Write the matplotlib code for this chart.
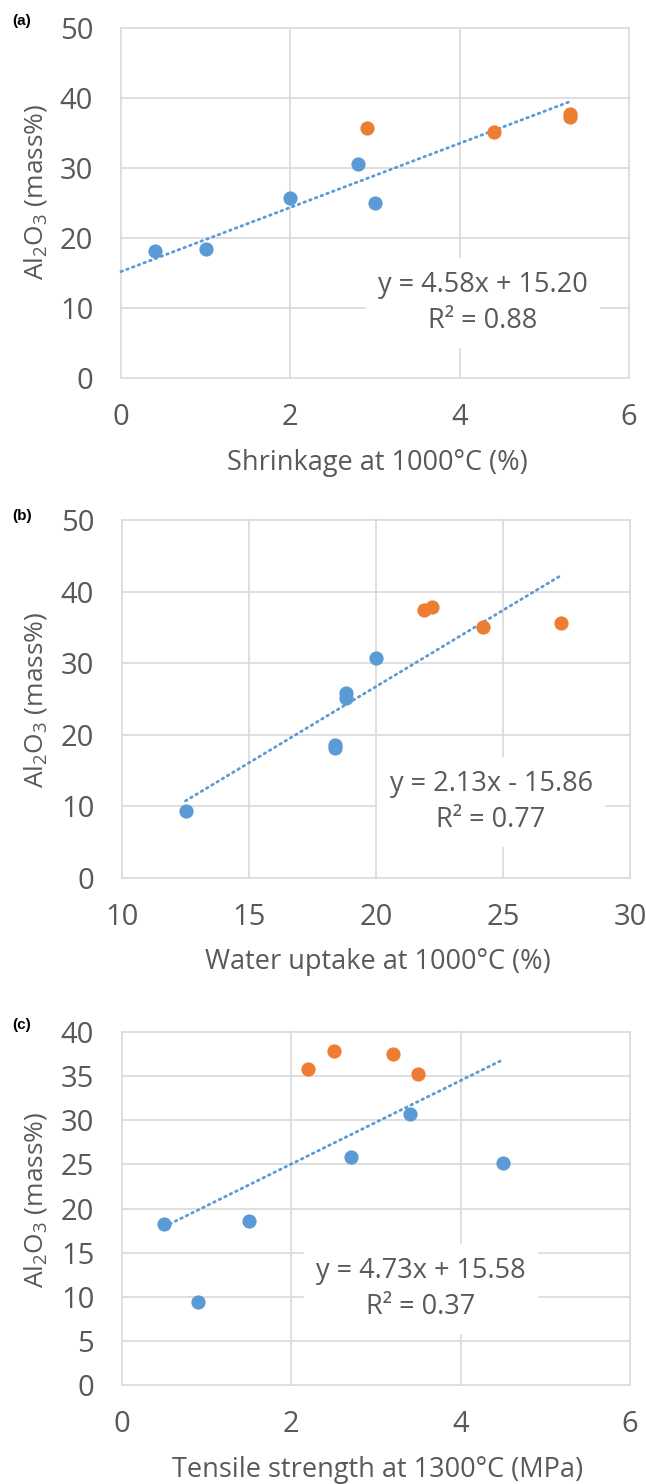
import matplotlib
matplotlib.use("Agg")
import matplotlib.pyplot as plt
import numpy as np

plt.rcParams['font.family'] = ['Open Sans', 'DejaVu Sans']

W, H = 646, 1484

# ---- data ----
# panel (a): shrinkage at 1000 C vs Al2O3
a_blue_x = [0.4, 1.0, 2.0, 2.8, 3.0]
a_blue_y = [18.2, 18.5, 25.7, 30.6, 25.0]
a_orange_x = [2.9, 4.4, 5.3, 5.3]
a_orange_y = [35.7, 35.1, 37.7, 37.3]
a_fit = (4.58, 15.20, 0.88)
a_fit_range = (0.0, 5.3)

# panel (b): water uptake at 1000 C vs Al2O3
b_blue_x = [12.5, 18.4, 18.4, 18.8, 18.8, 20.0]
b_blue_y = [9.4, 18.6, 18.2, 25.8, 25.1, 30.7]
b_orange_x = [21.9, 22.2, 24.2, 27.3]
b_orange_y = [37.4, 37.8, 35.1, 35.6]
b_fit = (2.13, -15.86, 0.77)
b_fit_range = (12.5, 27.3)

# panel (c): tensile strength at 1300 C vs Al2O3
c_blue_x = [0.5, 0.9, 1.5, 2.7, 3.4, 4.5]
c_blue_y = [18.3, 9.4, 18.6, 25.8, 30.7, 25.1]
c_orange_x = [2.2, 2.5, 3.2, 3.5]
c_orange_y = [35.8, 37.8, 37.5, 35.2]
c_fit = (4.73, 15.58, 0.37)
c_fit_range = (0.5, 4.5)

xlabels = ["Shrinkage at 1000°C (%)", "Water uptake at 1000°C (%)",
           "Tensile strength at 1300°C (MPa)"]
panel_tags = ["(a)", "(b)", "(c)"]

BLUE = "#5B9BD5"
ORANGE = "#ED7D31"
TXT = "#595959"
GRID = "#D9D9D9"

fig = plt.figure(figsize=(W / 100, H / 100), dpi=100)


def px_axes(l, t, r, b):
    return fig.add_axes([l / W, 1 - b / H, (r - l) / W, (b - t) / H])


def ftxt(x, y, s, **kw):
    return fig.text(x / W, 1 - y / H, s, **kw)


panels = [
    dict(box=(121, 28, 629, 378), xlim=(0, 6), xt=[0, 2, 4, 6], ylim=(0, 50), yt=[0, 10, 20, 30, 40, 50],
         bx=a_blue_x, by=a_blue_y, ox=a_orange_x, oy=a_orange_y, fit=a_fit, fr=a_fit_range,
         eq_xy=(483, 303), xl_y=463, tag_y=21, yl_y=192,
         eq="y = 4.58x + 15.20"),
    dict(box=(122, 520, 630, 878), xlim=(10, 30), xt=[10, 15, 20, 25, 30], ylim=(0, 50), yt=[0, 10, 20, 30, 40, 50],
         bx=b_blue_x, by=b_blue_y, ox=b_orange_x, oy=b_orange_y, fit=b_fit, fr=b_fit_range,
         eq_xy=(491, 802), xl_y=962, tag_y=516, yl_y=700,
         eq="y = 2.13x - 15.86"),
    dict(box=(122, 1032, 630, 1385), xlim=(0, 6), xt=[0, 2, 4, 6], ylim=(0, 40), yt=list(range(0, 45, 5)),
         bx=c_blue_x, by=c_blue_y, ox=c_orange_x, oy=c_orange_y, fit=c_fit, fr=c_fit_range,
         eq_xy=(421, 1289), xl_y=1470, tag_y=1025, yl_y=1200,
         eq="y = 4.73x + 15.58"),
]

for i, p in enumerate(panels):
    ax = px_axes(*p["box"])
    ax.set_xlim(*p["xlim"])
    ax.set_ylim(*p["ylim"])
    ax.set_xticks(p["xt"])
    ax.set_yticks(p["yt"])
    for s in ax.spines.values():
        s.set_visible(False)
    ax.grid(True, color=GRID, lw=1.2, zorder=0)
    ax.set_axisbelow(True)
    ax.tick_params(length=0, labelsize=21, labelcolor=TXT)
    ax.tick_params(axis='x', pad=18)
    ax.tick_params(axis='y', pad=20)
    for g in ax.get_xgridlines() + ax.get_ygridlines():
        g.set_clip_on(False)

    m, c, r2 = p["fit"]
    fx = np.array(p["fr"])
    ax.plot(fx, m * fx + c, color=BLUE, lw=2.0, ls=(0, (0.6, 1.6)),
            dash_capstyle='round', zorder=2, clip_on=False)
    ax.scatter(p["bx"], p["by"], s=105, color=BLUE, zorder=3, clip_on=False, linewidths=0)
    ax.scatter(p["ox"], p["oy"], s=105, color=ORANGE, zorder=3, clip_on=False, linewidths=0)

    ex, ey = p["eq_xy"]
    ftxt(ex, ey, p["eq"] + "\n" + "R² = %.2f" % r2, fontsize=19.5, color=TXT,
         ha='center', va='center', multialignment='center', linespacing=1.4,
         bbox=dict(fc='white', ec='none', pad=9), zorder=5)

    l, t, r, b = p["box"]
    ftxt((l + r) / 2 + 2, p["xl_y"], xlabels[i], fontsize=19.5, color=TXT, ha='center', va='center')
    ftxt(36, p["yl_y"], r"Al$_{\mathregular{2}}$O$_{\mathregular{3}}$ (mass%)", fontsize=19,
         color=TXT, ha='center', va='center', rotation=90)
    ftxt(12, p["tag_y"], panel_tags[i], fontsize=11, fontweight='bold', color='black',
         ha='left', va='center', family=['Liberation Sans', 'DejaVu Sans'])

fig.savefig("out.png", dpi=100)
